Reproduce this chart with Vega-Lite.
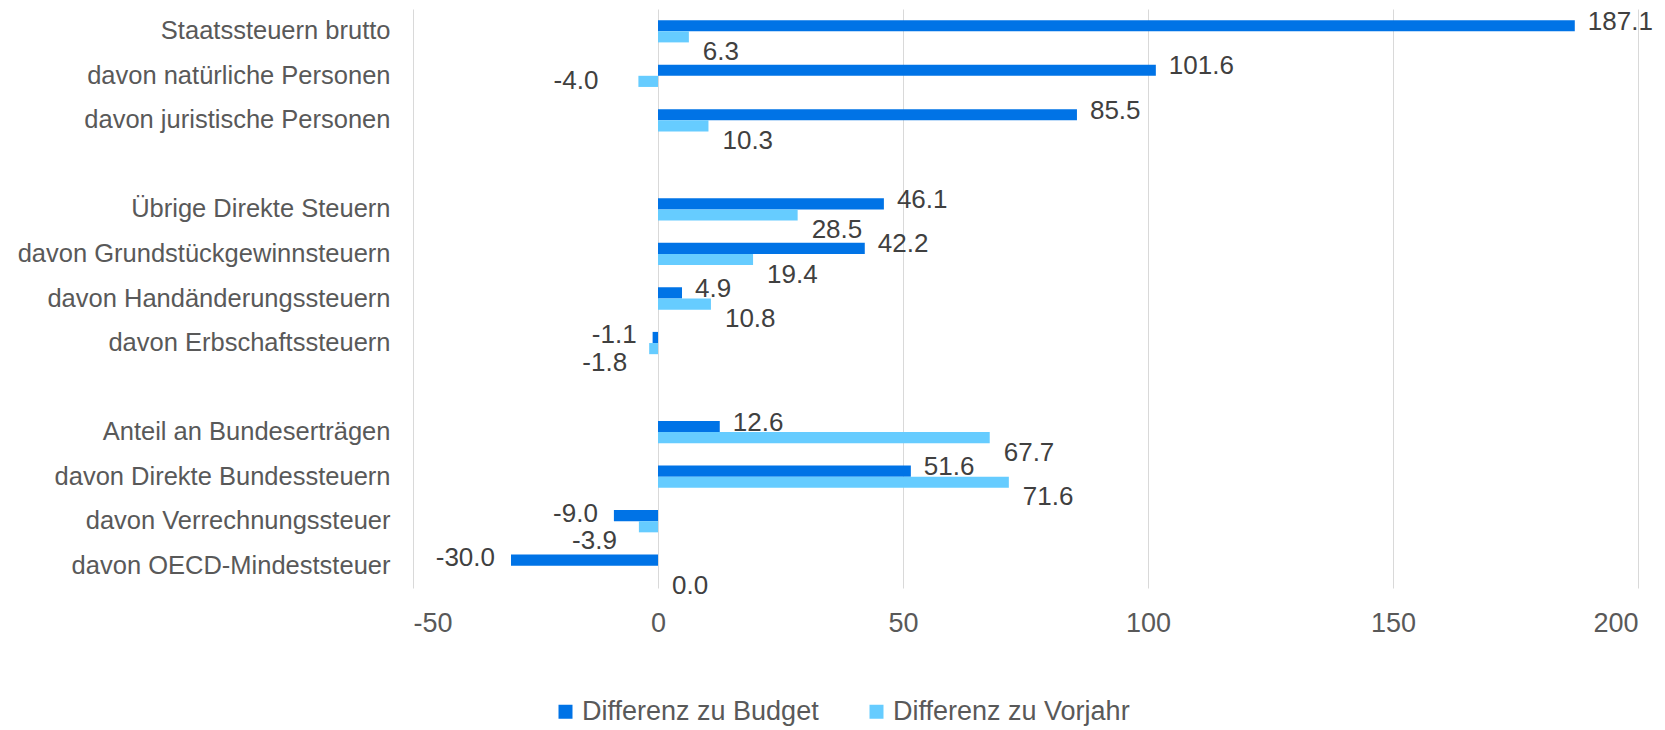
{
  "$schema": "https://vega.github.io/schema/vega-lite/v6.json",
  "width": 1225,
  "height": 579,
  "autosize": {"type": "none"},
  "padding": {"left": 413, "top": 9, "right": 27, "bottom": 142},
  "background": "white",
  "config": {
    "view": {"stroke": null},
    "font": "Liberation Sans",
    "locale": {"number": {"decimal": ".", "thousands": ",", "grouping": [3], "currency": ["", ""], "minus": "-"}}
  },
  "data": {
    "values": [
      {"cat": "Staatssteuern brutto", "series": "Differenz zu Budget", "value": 187.1},
      {"cat": "Staatssteuern brutto", "series": "Differenz zu Vorjahr", "value": 6.3},
      {"cat": "davon natürliche Personen", "series": "Differenz zu Budget", "value": 101.6},
      {"cat": "davon natürliche Personen", "series": "Differenz zu Vorjahr", "value": -4.0},
      {"cat": "davon juristische Personen", "series": "Differenz zu Budget", "value": 85.5},
      {"cat": "davon juristische Personen", "series": "Differenz zu Vorjahr", "value": 10.3},
      {"cat": "Übrige Direkte Steuern", "series": "Differenz zu Budget", "value": 46.1},
      {"cat": "Übrige Direkte Steuern", "series": "Differenz zu Vorjahr", "value": 28.5},
      {"cat": "davon Grundstückgewinnsteuern", "series": "Differenz zu Budget", "value": 42.2},
      {"cat": "davon Grundstückgewinnsteuern", "series": "Differenz zu Vorjahr", "value": 19.4},
      {"cat": "davon Handänderungssteuern", "series": "Differenz zu Budget", "value": 4.9},
      {"cat": "davon Handänderungssteuern", "series": "Differenz zu Vorjahr", "value": 10.8},
      {"cat": "davon Erbschaftssteuern", "series": "Differenz zu Budget", "value": -1.1},
      {"cat": "davon Erbschaftssteuern", "series": "Differenz zu Vorjahr", "value": -1.8},
      {"cat": "Anteil an Bundeserträgen", "series": "Differenz zu Budget", "value": 12.6},
      {"cat": "Anteil an Bundeserträgen", "series": "Differenz zu Vorjahr", "value": 67.7},
      {"cat": "davon Direkte Bundessteuern", "series": "Differenz zu Budget", "value": 51.6},
      {"cat": "davon Direkte Bundessteuern", "series": "Differenz zu Vorjahr", "value": 71.6},
      {"cat": "davon Verrechnungssteuer", "series": "Differenz zu Budget", "value": -9.0},
      {"cat": "davon Verrechnungssteuer", "series": "Differenz zu Vorjahr", "value": -3.9},
      {"cat": "davon OECD-Mindeststeuer", "series": "Differenz zu Budget", "value": -30.0},
      {"cat": "davon OECD-Mindeststeuer", "series": "Differenz zu Vorjahr", "value": 0.0}
    ]
  },
  "encoding": {
    "y": {
      "field": "cat",
      "type": "nominal",
      "scale": {
        "domain": ["Staatssteuern brutto", "davon natürliche Personen", "davon juristische Personen", " ", "Übrige Direkte Steuern", "davon Grundstückgewinnsteuern", "davon Handänderungssteuern", "davon Erbschaftssteuern", "  ", "Anteil an Bundeserträgen", "davon Direkte Bundessteuern", "davon Verrechnungssteuer", "davon OECD-Mindeststeuer"],
        "paddingInner": 0.5,
        "paddingOuter": 0.25
      },
      "axis": {
        "title": null,
        "domain": false,
        "ticks": false,
        "grid": false,
        "labelPadding": 23,
        "labelFontSize": 25.5,
        "labelColor": "#595959",
        "labelFont": "Liberation Sans",
        "labelLimit": 500
      }
    },
    "yOffset": {
      "field": "series",
      "type": "nominal",
      "scale": {"domain": ["Differenz zu Budget", "Differenz zu Vorjahr"], "paddingInner": 0, "paddingOuter": 0}
    },
    "x": {
      "field": "value",
      "type": "quantitative",
      "scale": {"domain": [-50, 200], "nice": false, "zero": false},
      "axis": {
        "title": null,
        "values": [-50, 0, 50, 100, 150, 200],
        "domain": false,
        "ticks": false,
        "grid": true,
        "gridColor": "#d9d9d9",
        "gridWidth": 1,
        "labelPadding": 22,
        "labelFontSize": 27,
        "labelColor": "#595959",
        "labelFont": "Liberation Sans",
        "format": "d"
      }
    }
  },
  "layer": [
    {
      "mark": {"type": "bar"},
      "encoding": {
        "color": {
          "field": "series",
          "type": "nominal",
          "scale": {"domain": ["Differenz zu Budget", "Differenz zu Vorjahr"], "range": ["#0073E6", "#66CCFF"]},
          "legend": {
            "title": null,
            "orient": "none",
            "legendX": 139,
            "legendY": 689,
            "direction": "horizontal",
            "symbolType": "square",
            "symbolSize": 196,
            "symbolStrokeWidth": 0,
            "labelFontSize": 27,
            "labelColor": "#595959",
            "labelFont": "Liberation Sans",
            "labelOffset": 3,
            "columnPadding": 44,
            "padding": 0,
            "labelLimit": 400
          }
        }
      }
    },
    {
      "transform": [{"filter": "datum.value >= 0 && datum.series == 'Differenz zu Budget'"}],
      "mark": {"type": "text", "align": "left", "baseline": "middle", "dx": 13, "dy": -4, "fontSize": 26, "color": "#404040", "font": "Liberation Sans"},
      "encoding": {"text": {"field": "value", "type": "quantitative", "format": ".1f"}}
    },
    {
      "transform": [{"filter": "datum.value < 0 && datum.series == 'Differenz zu Budget'"}],
      "mark": {"type": "text", "align": "right", "baseline": "middle", "dx": -16, "dy": -2, "fontSize": 26, "color": "#404040", "font": "Liberation Sans"},
      "encoding": {"text": {"field": "value", "type": "quantitative", "format": ".1f"}}
    },
    {
      "transform": [{"filter": "datum.value >= 0 && datum.series == 'Differenz zu Vorjahr'"}],
      "mark": {"type": "text", "align": "left", "baseline": "middle", "dx": 14, "dy": 15, "fontSize": 26, "color": "#404040", "font": "Liberation Sans"},
      "encoding": {"text": {"field": "value", "type": "quantitative", "format": ".1f"}}
    },
    {
      "transform": [{"filter": "datum.value < 0 && datum.series == 'Differenz zu Vorjahr' && datum.cat != 'davon natürliche Personen'"}],
      "mark": {"type": "text", "align": "right", "baseline": "middle", "dx": -22, "dy": 14, "fontSize": 26, "color": "#404040", "font": "Liberation Sans"},
      "encoding": {"text": {"field": "value", "type": "quantitative", "format": ".1f"}}
    },
    {
      "transform": [{"filter": "datum.value < 0 && datum.series == 'Differenz zu Vorjahr' && datum.cat == 'davon natürliche Personen'"}],
      "mark": {"type": "text", "align": "right", "baseline": "middle", "dx": -40, "dy": 0, "fontSize": 26, "color": "#404040", "font": "Liberation Sans"},
      "encoding": {"text": {"field": "value", "type": "quantitative", "format": ".1f"}}
    }
  ]
}
